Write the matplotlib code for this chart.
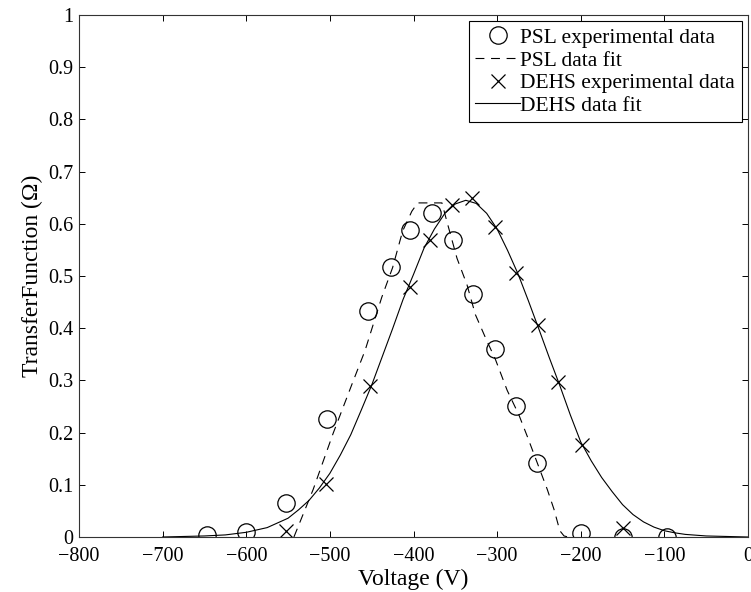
import matplotlib
matplotlib.use("Agg")
import matplotlib.pyplot as plt
from matplotlib.ticker import FuncFormatter, MultipleLocator

plt.rcParams["font.family"] = ["Liberation Serif", "DejaVu Serif"]

# PSL experimental data (circles)
psl_v = [-647, -600, -553, -503, -454, -427, -404, -378, -353, -329, -303, -277, -252, -200, -149, -97]
psl_t = [0.004, 0.009, 0.066, 0.226, 0.433, 0.517, 0.589, 0.621, 0.569, 0.465, 0.361, 0.251, 0.141, 0.007, 0.0, 0.0]

# PSL data fit (dashed)
psl_fit_v = [-543, -520, -496, -474, -458, -438, -425, -413, -402, -395, -366, -360,
             -348, -336, -326, -314, -302, -288, -274, -264, -252, -240, -232, -225, -220, -215]
psl_fit_t = [0.000, 0.091, 0.199, 0.291, 0.357, 0.459, 0.516, 0.586, 0.624, 0.640, 0.640, 0.604,
             0.534, 0.483, 0.426, 0.382, 0.340, 0.281, 0.234, 0.193, 0.142, 0.091, 0.053, 0.012, 0.002, 0.0]

# DEHS experimental data (crosses)
dehs_v = [-553, -505, -452, -404, -380, -354, -330, -302, -278, -251, -227, -198, -149]
dehs_t = [0.012, 0.101, 0.290, 0.479, 0.569, 0.636, 0.649, 0.593, 0.505, 0.406, 0.296, 0.177, 0.017]

# DEHS data fit (solid)
dehs_fit_v = [-700, -675, -650, -625, -600, -575, -550, -537.5, -525, -512.5, -500, -487.5,
              -475, -462.5, -450, -437.5, -425, -412.5, -400, -387.5, -375, -362.5, -350,
              -337.5, -325, -312.5, -300, -287.5, -275, -262.5, -250, -237.5, -225, -212.5,
              -200, -187.5, -175, -162.5, -150, -137.5, -125, -112.5, -100, -87.5, -75,
              -50, -25, 0]
dehs_fit_t = [0.000, 0.001, 0.002, 0.004, 0.009, 0.018, 0.036, 0.052, 0.070, 0.094, 0.122, 0.157,
              0.196, 0.243, 0.291, 0.345, 0.399, 0.455, 0.503, 0.553, 0.590, 0.620, 0.638,
              0.645, 0.639, 0.620, 0.590, 0.549, 0.504, 0.452, 0.398, 0.343, 0.290, 0.234,
              0.182, 0.146, 0.114, 0.087, 0.062, 0.043, 0.029, 0.019, 0.012, 0.008, 0.005,
              0.002, 0.001, 0.000]

fig = plt.figure(figsize=(7.51, 5.92), dpi=100)
ax = fig.add_axes([0.1052, 0.0929, 0.8908, 0.8818])

lw = 0.8
ax.plot(psl_v, psl_t, linestyle="none", marker="o", ms=12.5, mfc="none", mec="black",
        mew=0.9, label="PSL experimental data")
ax.plot(psl_fit_v, psl_fit_t, color="black", lw=lw, linestyle=(0, (8, 6)), label="PSL data fit")
ax.plot(dehs_v, dehs_t, linestyle="none", marker="x", ms=9.5, mec="black", mew=0.9,
        label="DEHS experimental data")
ax.plot(dehs_fit_v, dehs_fit_t, color="black", lw=lw, label="DEHS data fit")

ax.set_xlim(-800, 0)
ax.set_ylim(0, 1)
ax.xaxis.set_major_locator(MultipleLocator(100))
ax.yaxis.set_major_locator(MultipleLocator(0.1))
ax.xaxis.set_major_formatter(FuncFormatter(lambda v, p: f"{v:g}".replace("-", "\u2212")))
ax.yaxis.set_major_formatter(FuncFormatter(lambda v, p: f"{v:g}"))
ax.tick_params(direction="in", length=4, width=0.7, top=True, right=True,
               labelsize=14.5, colors="black")
ax.tick_params(axis="x", pad=7)
ax.tick_params(axis="y", pad=4)
for s in ax.spines.values():
    s.set_linewidth(0.8)
    s.set_color("#333333")

ax.set_xlabel("Voltage (V)", fontsize=17, labelpad=2)
ax.set_ylabel("TransferFunction (\u03a9)", fontsize=17, labelpad=4)

leg = ax.legend(loc="upper right", fontsize=15.5, frameon=True, fancybox=False,
                edgecolor="black", framealpha=1, handlelength=2.1, handletextpad=0.0,
                borderaxespad=0.3, borderpad=0.3, labelspacing=0.12, numpoints=1)
leg.get_frame().set_linewidth(0.8)

fig.savefig("out.png", dpi=100)
